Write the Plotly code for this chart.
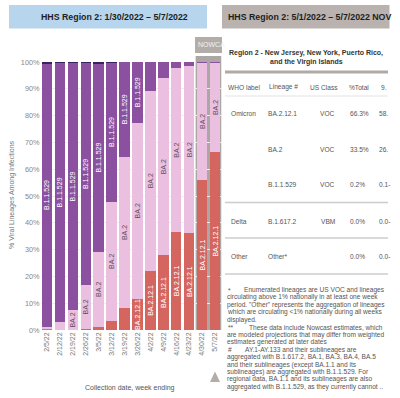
import plotly.graph_objects as go

# ---------------- data ----------------
dates = ["2/5/22", "2/12/22", "2/19/22", "2/26/22", "3/5/22", "3/12/22", "3/19/22",
         "3/26/22", "4/2/22", "4/9/22", "4/16/22", "4/23/22", "4/30/22", "5/7/22"]
delta = [0.3, 0.1, 0.1, 0.2, 0, 0, 0, 0, 0, 0, 0, 0, 0, 0]
ba2121 = [0, 0, 0, 0.3, 1.2, 3.4, 8.1, 11.6, 22.1, 28.0, 36.7, 36.1, 56.0, 66.3]
ba2 = [0.9, 2.9, 7.3, 16.3, 28.0, 44.5, 56.6, 65.8, 67.2, 65.9, 60.9, 62.4, 43.7, 33.5]
b11529 = [98.4, 96.7, 92.3, 82.9, 70.3, 52.0, 35.3, 22.6, 10.7, 6.1, 2.4, 1.5, 0.3, 0.2]
other_top = [0.4, 0.3, 0.3, 0.3, 0.5, 0.1, 0, 0, 0, 0, 0, 0, 0, 0]

show_ba2121 = [0, 0, 0, 0, 0, 0, 0, 1, 1, 1, 1, 1, 1, 1]
show_ba2 = [0, 0, 1, 1, 1, 1, 1, 1, 1, 1, 1, 1, 1, 1]
show_b11529 = [1, 1, 1, 1, 1, 1, 1, 1, 1, 0, 0, 0, 0, 0]

ytick_vals = [0, 10, 20, 30, 40, 50, 60, 70, 80, 90, 100]
ytick_text = ["0%", "10%", "20%", "30%", "40%", "50%", "60%", "70%", "80%", "90%", "100%"]

tbl_headers = ["WHO label", "Lineage #", "US Class", "%Total", "9."]
tbl_who = ["Omicron", "", "", "Delta", "Other"]
tbl_lineage = ["BA.2.12.1", "BA.2", "B.1.1.529", "B.1.617.2", "Other*"]
tbl_class = ["VOC", "VOC", "VOC", "VBM", ""]
tbl_pct = ["66.3%", "33.5%", "0.2%", "0.0%", "0.0%"]
tbl_pi = ["58.", "26.", "0.1-", "0.0-", "0.0-"]

footnotes = [
    "Enumerated lineages are US VOC and lineages",
    "circulating above 1% nationally in at least one week",
    "period. \"Other\" represents the aggregation of lineages",
    "which are circulating &lt;1% nationally during all weeks",
    "displayed.",
    "These data include Nowcast estimates, which",
    "are modeled projections that may differ from weighted",
    "estimates generated at later dates",
    "AY.1-AY.133 and their sublineages are",
    "aggregated with B.1.617.2, BA.1, BA.3, BA.4, BA.5",
    "and their sublineages (except BA.1.1 and its",
    "sublineages) are aggregated with B.1.1.529. For",
    "regional data, BA.1.1 and its sublineages are also",
    "aggregated with B.1.1.529, as they currently cannot ..",
]
footnote_marks = {0: "*", 5: "**", 8: "#"}

# ---------------- layout helpers ----------------
W, H = 400, 398
FONT = "Liberation Sans, Arial, sans-serif"


def px(x):
    return x / W


def py(y):
    return 1 - y / H


fig = go.Figure()

series = [
    ("Delta", delta, "#e0783c", None, "white"),
    ("BA.2.12.1", ba2121, "#d5655f", show_ba2121, "white"),
    ("BA.2", ba2, "#ebbfe0", show_ba2, "#5e5060"),
    ("B.1.1.529", b11529, "#8b509f", show_b11529, "white"),
    ("Other", other_top, "#3a2160", None, "white"),
]
for name, vals, col, show, tcol in series:
    txt = [name if (show and s) else "" for s in (show or [0] * len(vals))]
    fig.add_trace(go.Bar(
        x=dates, y=vals, name=name, marker=dict(color=col, line=dict(width=0)),
        text=txt, textposition="inside", insidetextanchor="middle", textangle=-90,
        textfont=dict(family=FONT, size=7, color=tcol), cliponaxis=False,
        hoverinfo="skip",
    ))

shapes = []
annotations = []

# nowcast background column
shapes.append(dict(type="rect", xref="x", yref="paper", x0=11.5, x1=13.5,
                   y0=py(330), y1=py(56), fillcolor="#aca7a4", line=dict(width=0),
                   layer="below"))
# nowcast tab
shapes.append(dict(type="rect", xref="paper", yref="paper", x0=px(195), x1=px(222),
                   y0=py(53), y1=py(37), fillcolor="#b3adaa", line=dict(width=0)))
annotations.append(dict(xref="paper", yref="paper", x=px(196), y=py(45), text="NOWCA",
                        showarrow=False, xanchor="left", yanchor="middle",
                        font=dict(family=FONT, size=7, color="#f2f2f2")))

# title boxes
shapes.append(dict(type="rect", xref="paper", yref="paper", x0=px(9), x1=px(207),
                   y0=py(28.5), y1=py(5), fillcolor="#b7d5ec", line=dict(width=0)))
shapes.append(dict(type="rect", xref="paper", yref="paper", x0=px(222), x1=px(389.5),
                   y0=py(28.5), y1=py(5), fillcolor="#b9b2ae", line=dict(width=0)))
annotations.append(dict(xref="paper", yref="paper", x=px(114.5), y=py(16.5),
                        text="<b>HHS Region 2: 1/30/2022 – 5/7/2022</b>", showarrow=False,
                        xanchor="center", yanchor="middle",
                        font=dict(family=FONT, size=8.8, color="#1e1e1e")))
annotations.append(dict(xref="paper", yref="paper", x=px(226), y=py(16.5),
                        text="<b>HHS Region 2: 5/1/2022 – 5/7/2022 NOV</b>", showarrow=False,
                        xanchor="left", yanchor="middle",
                        font=dict(family=FONT, size=8.8, color="#1e1e1e")))

# axis titles
annotations.append(dict(xref="paper", yref="paper", x=px(12), y=py(195),
                        text="% Viral Lineages Among Infections", textangle=-90,
                        showarrow=False, xanchor="center", yanchor="middle",
                        font=dict(family=FONT, size=7, color="#777")))
annotations.append(dict(xref="paper", yref="paper", x=px(130), y=py(388),
                        text="Collection date, week ending", showarrow=False,
                        xanchor="center", yanchor="middle",
                        font=dict(family=FONT, size=7, color="#555")))

# triangle marker under nowcast
shapes.append(dict(type="path", xref="paper", yref="paper",
                   path=f"M {px(210)},{py(382)} L {px(220)},{py(382)} L {px(215)},{py(371.5)} Z",
                   fillcolor="#b3adaa", line=dict(width=0)))

# ---------------- right table ----------------
annotations.append(dict(xref="paper", yref="paper", x=px(306), y=py(53),
                        text="<b>Region 2 - New Jersey, New York, Puerto Rico,</b>",
                        showarrow=False, xanchor="center", yanchor="middle",
                        font=dict(family=FONT, size=7, color="#333")))
annotations.append(dict(xref="paper", yref="paper", x=px(306), y=py(61.5),
                        text="<b>and the Virgin Islands</b>",
                        showarrow=False, xanchor="center", yanchor="middle",
                        font=dict(family=FONT, size=7, color="#333")))
shapes.append(dict(type="line", xref="paper", yref="paper", x0=px(225), x1=px(388),
                   y0=py(72), y1=py(72), line=dict(color="#b0aaa6", width=3)))
shapes.append(dict(type="line", xref="paper", yref="paper", x0=px(225), x1=px(388),
                   y0=py(96), y1=py(96), line=dict(color="#e3e3e3", width=1)))
for yy in [202.5, 238, 274]:
    shapes.append(dict(type="line", xref="paper", yref="paper", x0=px(225), x1=px(388),
                       y0=py(yy), y1=py(yy), line=dict(color="#cccccc", width=1.5)))

tfont = dict(family=FONT, size=6.6, color="#555")
hdr_x = [(226, "left"), (267, "left"), (340, "right"), (347, "left"), (379, "left")]
for (xx, anc), t in zip(hdr_x, tbl_headers):
    annotations.append(dict(xref="paper", yref="paper", x=px(xx), y=py(87), text=t,
                            showarrow=False, xanchor=anc, yanchor="middle", font=tfont))
row_y = [113, 149, 185, 221, 256.5]
for i, yy in enumerate(row_y):
    cells = [(229, "left", tbl_who[i]), (266, "left", tbl_lineage[i]),
             (337, "right", tbl_class[i]), (348, "left", tbl_pct[i]),
             (377, "left", tbl_pi[i])]
    for xx, anc, t in cells:
        if t:
            annotations.append(dict(xref="paper", yref="paper", x=px(xx), y=py(yy), text=t,
                                    showarrow=False, xanchor=anc, yanchor="middle",
                                    font=tfont))

# footnotes
ffont = dict(family=FONT, size=6.6, color="#555")
indent = {0: 242, 5: 247, 8: 243}
for i, line in enumerate(footnotes):
    yy = 290 + 7.45 * i
    annotations.append(dict(xref="paper", yref="paper", x=px(indent.get(i, 225)), y=py(yy),
                            text=line, showarrow=False, xanchor="left", yanchor="middle",
                            font=ffont))
    if i in footnote_marks:
        annotations.append(dict(xref="paper", yref="paper", x=px(225.5), y=py(yy),
                                text=footnote_marks[i], showarrow=False, xanchor="left",
                                yanchor="middle", font=ffont))

fig.update_layout(
    width=W, height=H, autosize=False,
    margin=dict(l=0, r=0, t=0, b=0, pad=0),
    paper_bgcolor="white", plot_bgcolor="white",
    barmode="stack", bargap=0.19, showlegend=False,
    font=dict(family=FONT, size=7, color="#777"),
    uniformtext=dict(minsize=7, mode="show"),
    shapes=shapes, annotations=annotations,
    xaxis=dict(type="category", range=[-0.5, 13.5], domain=[px(40.5), px(221.5)],
               tickangle=-90, tickfont=dict(family=FONT, size=7, color="#777"),
               showgrid=False, showline=False, zeroline=False, ticks="",
               automargin=False, fixedrange=True),
    yaxis=dict(range=[0, 100], domain=[py(330), py(62)], tickvals=ytick_vals,
               ticktext=ytick_text, tickfont=dict(family=FONT, size=7.3, color="#888"),
               showgrid=True, gridcolor="#eeeeee", gridwidth=1, zeroline=False,
               showline=False, ticks="", automargin=False, fixedrange=True),
)

fig.write_html("out.html", config={"displayModeBar": False},
               post_script="document.body.style.margin='0';document.body.style.overflow='hidden';")
